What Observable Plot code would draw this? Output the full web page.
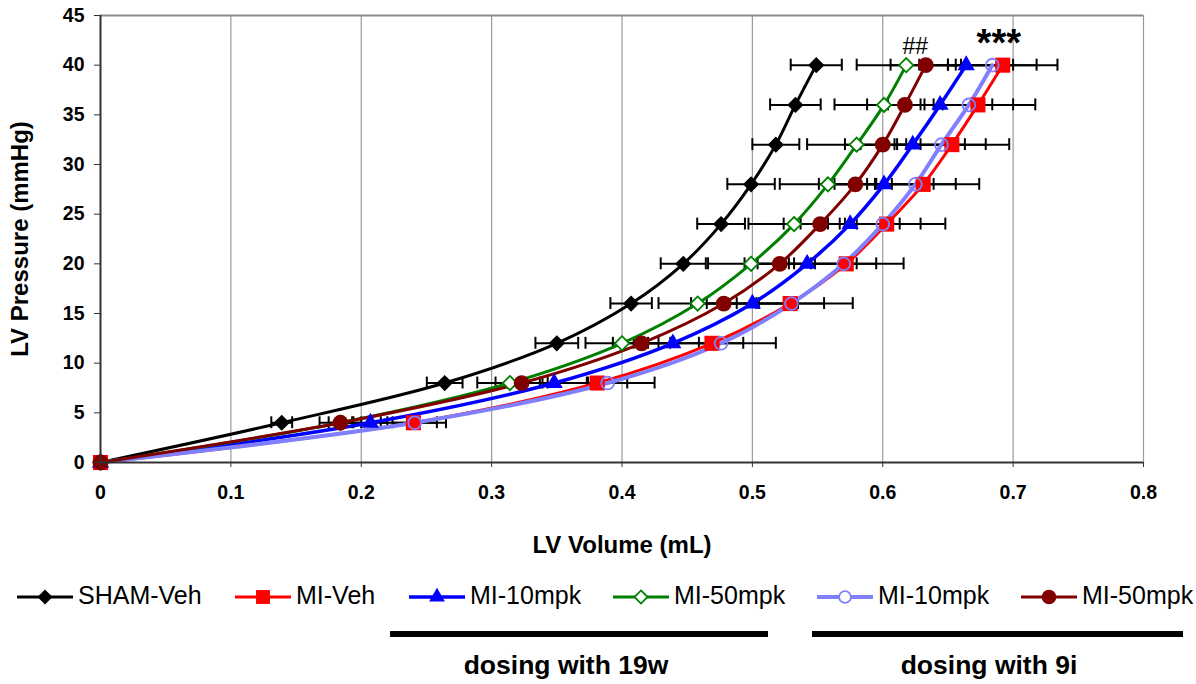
<!DOCTYPE html>
<html>
<head>
<meta charset="utf-8">
<script src="https://cdn.jsdelivr.net/npm/d3@7"></script>
<script src="https://cdn.jsdelivr.net/npm/@observablehq/plot@0.6"></script>
<style>
  html, body { margin: 0; padding: 0; background: #ffffff; }
  #wrap { position: relative; width: 1196px; height: 684px; font-family: "Liberation Sans", Arial, sans-serif; overflow: hidden; }
  #chart { position: absolute; left: 0; top: 0; }
  .lg { position: absolute; }
  .lgtext { position: absolute; font-size: 25px; color: #000; white-space: nowrap; line-height: 1; }
  .bar { position: absolute; height: 6px; background: #000; }
  .dose { position: absolute; font-size: 26.5px; font-weight: bold; white-space: nowrap; line-height: 1; transform: translateX(-50%); }
</style>
</head>
<body>
<div id="wrap"><div id="chart"></div></div>
<script>
// ---------------- data ----------------
const pressure = [0, 4, 8, 12, 16, 20, 24, 28, 32, 36, 40];

const shamVehVol = [0, 0.139, 0.264, 0.350, 0.407, 0.447, 0.476, 0.499, 0.518, 0.533, 0.549];
const shamVehErr = [0, 0.008, 0.0137, 0.0164, 0.0159, 0.0173, 0.0183, 0.0182, 0.018, 0.0194, 0.0196];

const miVehVol = [0, 0.240, 0.381, 0.469, 0.529, 0.572, 0.603, 0.631, 0.653, 0.673, 0.692];
const miVehErr = [0, 0.025, 0.044, 0.049, 0.048, 0.044, 0.045, 0.043, 0.044, 0.044, 0.042];

const mi10_19wVol = [0, 0.207, 0.348, 0.439, 0.500, 0.542, 0.575, 0.601, 0.623, 0.644, 0.664];
const mi10_19wErr = [0, 0.013, 0.025, 0.030, 0.035, 0.038, 0.038, 0.038, 0.040, 0.040, 0.036];

const mi50_19wVol = [0, 0.184, 0.314, 0.400, 0.458, 0.499, 0.532, 0.558, 0.580, 0.601, 0.618];
const mi50_19wErr = [0, 0.009, 0.025, 0.028, 0.030, 0.033, 0.035, 0.037, 0.038, 0.038, 0.038];

const mi10_9iVol = [0, 0.241, 0.389, 0.476, 0.530, 0.570, 0.600, 0.625, 0.645, 0.666, 0.684];
const mi10_9iErr = [0, 0.017, 0.015, 0.017, 0.025, 0.025, 0.029, 0.031, 0.034, 0.034, 0.034];

const mi50_9iVol = [0, 0.184, 0.323, 0.415, 0.478, 0.521, 0.552, 0.579, 0.600, 0.617, 0.633];
const mi50_9iErr = [0, 0.016, 0.020, 0.022, 0.025, 0.027, 0.028, 0.028, 0.029, 0.029, 0.027];

const seriesKeys   = ["shamVeh", "miVeh", "mi10_19w", "mi50_19w", "mi10_9i", "mi50_9i"];
const seriesLabels = ["SHAM-Veh", "MI-Veh", "MI-10mpk", "MI-50mpk", "MI-10mpk", "MI-50mpk"];

const xTicks = [0, 0.1, 0.2, 0.3, 0.4, 0.5, 0.6, 0.7, 0.8];
const xTickLabels = ["0", "0.1", "0.2", "0.3", "0.4", "0.5", "0.6", "0.7", "0.8"];
const yTicks = [0, 5, 10, 15, 20, 25, 30, 35, 40, 45];

const annotationLabels = ["***", "##"];
const annotationX = [0.689, 0.625];
const annotationY = [42.6, 41.9];

const groupLabels = ["dosing with 19w", "dosing with 9i"];

// ---------------- styles ----------------
const styles = {
  shamVeh:  {stroke: "#000000", fill: "#000000", symbol: "diamond2", r: 7.3, lw: 3,   sw: 0},
  miVeh:    {stroke: "#ff0000", fill: "#ff0000", symbol: "square2",  r: 9.6, lw: 3,   sw: 0},
  mi10_19w: {stroke: "#0000ff", fill: "#0000ff", symbol: "triangle2",r: 8.2, lw: 3.5, sw: 0},
  mi50_19w: {stroke: "#008000", fill: "#ffffff", symbol: "diamond2", r: 6.4, lw: 3,   sw: 1.8},
  mi10_9i:  {stroke: "#8080ff", fill: "none",    symbol: "circle",   r: 6.4, lw: 4,   sw: 1.8},
  mi50_9i:  {stroke: "#800000", fill: "#800000", symbol: "circle",   r: 7.9, lw: 3,   sw: 0}
};

const volumes = {shamVeh: shamVehVol, miVeh: miVehVol, mi10_19w: mi10_19wVol, mi50_19w: mi50_19wVol, mi10_9i: mi10_9iVol, mi50_9i: mi50_9iVol};
const errors  = {shamVeh: shamVehErr, miVeh: miVehErr, mi10_19w: mi10_19wErr, mi50_19w: mi50_19wErr, mi10_9i: mi10_9iErr, mi50_9i: mi50_9iErr};

const rows = seriesKeys.flatMap(k => pressure.map((p, i) => ({key: k, p, v: volumes[k][i], e: errors[k][i]})));
const errRows = rows.filter(d => d.e > 0);
const annotations = annotationLabels.map((t, i) => ({t, x: annotationX[i], y: annotationY[i]}));

const FONT = "Liberation Sans, Arial, sans-serif";
const capH = 0.6;

const marks = [
  Plot.gridX(xTicks.slice(1), {stroke: "#9a9a9a", strokeOpacity: 1, strokeWidth: 1.2}),
  Plot.ruleY([45], {stroke: "#8c8c8c", strokeWidth: 2}),
  // error bars
  Plot.ruleY(errRows, {y: "p", x1: d => d.v - d.e, x2: d => d.v + d.e, stroke: "#000", strokeWidth: 2}),
  Plot.ruleX(errRows, {x: d => d.v - d.e, y1: d => d.p - capH, y2: d => d.p + capH, stroke: "#000", strokeWidth: 2}),
  Plot.ruleX(errRows, {x: d => d.v + d.e, y1: d => d.p - capH, y2: d => d.p + capH, stroke: "#000", strokeWidth: 2})
];

for (const k of seriesKeys) {
  const s = styles[k];
  marks.push(Plot.line(rows.filter(d => d.key === k), {x: "v", y: "p", stroke: s.stroke, strokeWidth: s.lw, curve: "catmull-rom"}));
}
for (const k of seriesKeys) {
  const s = styles[k];
  marks.push(Plot.dot(rows.filter(d => d.key === k), {
    x: "v", y: "p", symbol: () => s.symbol, r: s.r,
    fill: s.fill, stroke: s.sw ? s.stroke : "none", strokeWidth: s.sw
  }));
}

marks.push(
  Plot.ruleX([0], {stroke: "#333", strokeWidth: 2}),
  Plot.ruleY([0], {stroke: "#333", strokeWidth: 2}),
  Plot.axisX({ticks: xTicks, tickFormat: (d, i) => xTickLabels[i], tickSize: 5, tickPadding: 18,
    fontSize: 19.5, fontWeight: "bold", fontFamily: FONT, stroke: "#333", label: null}),
  Plot.axisX({ticks: [], tickSize: 0, label: "LV Volume (mL)", labelAnchor: "center", labelArrow: "none",
    labelOffset: 90, fontSize: 24, fontWeight: "bold", fontFamily: FONT}),
  Plot.axisY({ticks: yTicks, tickSize: 6, tickPadding: 10, fontSize: 19.5, fontWeight: "bold",
    fontFamily: FONT, stroke: "#333", label: null}),
  Plot.axisY({ticks: [], tickSize: 0, label: "LV Pressure (mmHg)", labelAnchor: "center", labelArrow: "none",
    labelOffset: 90, fontSize: 24, fontWeight: "bold", fontFamily: FONT}),
  Plot.text(annotations.filter(d => d.t === "***"), {x: "x", y: "y", text: "t", fontSize: 38, fontWeight: "bold", fontFamily: FONT, fill: "#000", dy: 4}),
  Plot.text(annotations.filter(d => d.t !== "***"), {x: "x", y: "y", text: "t", fontSize: 23, fontFamily: FONT, fill: "#000"})
);

const chart = Plot.plot({
  width: 1196,
  height: 560,
  marginLeft: 100,
  marginRight: 53,
  marginTop: 15,
  marginBottom: 98,
  style: {fontFamily: FONT, background: "#fff", overflow: "visible"},
  x: {domain: [0, 0.8]},
  y: {domain: [0, 45]},
  marks
});
document.getElementById("chart").appendChild(chart);

// ---------------- legend (HTML + d3 symbols) ----------------
const wrap = document.getElementById("wrap");
const legendLeft = [17, 235, 409, 613, 817, 1021];
const legendY = 597;
const symMap = {diamond2: d3.symbolDiamond2, square2: d3.symbolSquare2, triangle2: d3.symbolTriangle2, circle: d3.symbolCircle};
seriesKeys.forEach((k, i) => {
  const s = styles[k];
  const left = legendLeft[i];
  const svg = d3.select(wrap).append("svg").attr("class", "lg")
    .attr("width", 60).attr("height", 24)
    .style("left", left + "px").style("top", (legendY - 12) + "px");
  svg.append("line").attr("x1", 0).attr("x2", 56).attr("y1", 12).attr("y2", 12)
    .attr("stroke", s.stroke).attr("stroke-width", s.lw);
  const area = Math.PI * s.r * s.r * 0.85;
  svg.append("path").attr("transform", "translate(28,12)")
    .attr("d", d3.symbol(symMap[s.symbol], area)())
    .attr("fill", s.fill === "none" ? "#fff" : s.fill)
    .attr("stroke", s.sw ? s.stroke : "none").attr("stroke-width", s.sw);
  const t = document.createElement("div");
  t.className = "lgtext";
  t.textContent = seriesLabels[i];
  t.style.left = (left + 61) + "px";
  t.style.top = (legendY - 14) + "px";
  wrap.appendChild(t);
});

const barLeft = [390, 812];
const barRight = [768, 1183];
const doseCenter = [566, 989];
groupLabels.forEach((g, i) => {
  const b = document.createElement("div");
  b.className = "bar";
  b.style.left = barLeft[i] + "px";
  b.style.width = (barRight[i] - barLeft[i]) + "px";
  b.style.top = "631px";
  wrap.appendChild(b);
  const t = document.createElement("div");
  t.className = "dose";
  t.textContent = g;
  t.style.left = doseCenter[i] + "px";
  t.style.top = "652px";
  wrap.appendChild(t);
});
</script>
</body>
</html>
